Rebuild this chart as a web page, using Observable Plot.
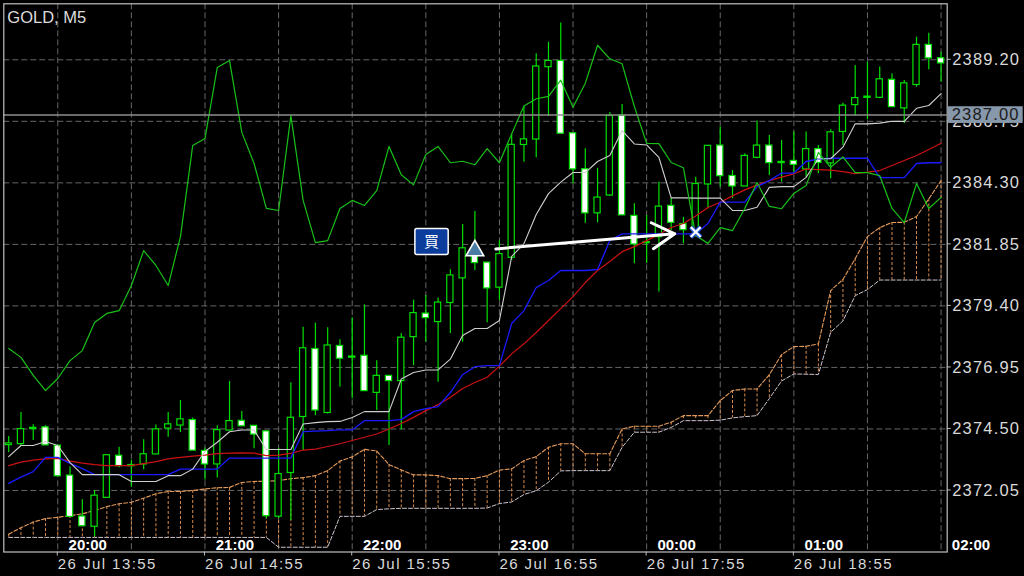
<!DOCTYPE html>
<html><head><meta charset="utf-8">
<script src="https://cdn.jsdelivr.net/npm/d3@7"></script>
<script src="https://cdn.jsdelivr.net/npm/@observablehq/plot@0.6"></script>
<style>
html,body{margin:0;padding:0;background:#000;}
#chart{width:1024px;height:576px;overflow:hidden;}
</style></head><body><div id="chart"></div>
<script>
// ---- data (bars 13:35 .. 19:55, M5) ----
const symbol = "GOLD, M5";
const firstBarTime = "2024-07-26T13:35:00Z";
const open = [
 2373.88,2373.92,2374.52,2374.54,2373.81,2372.62,2370.99,2370.63,2371.78,2373.41,
 2373.04,2373.11,2373.51,2374.54,2374.66,2374.83,2373.60,2373.11,2374.46,2374.80,
 2374.60,2374.38,2371.03,2372.77,2375.00,2377.66,2375.16,2377.78,2377.36,2377.39,
 2375.96,2376.59,2376.43,2378.18,2379.07,2378.78,2379.54,2380.52,2381.37,2381.10,
 2380.15,2381.34,2385.83,2386.05,2388.93,2389.13,2386.25,2384.82,2383.11,2383.82,
 2386.95,2382.96,2381.92,2382.16,2383.36,2382.64,2382.40,2384.26,2385.76,2384.55,
 2384.18,2385.32,2385.76,2385.11,2385.15,2384.86,2385.62,2385.10,2386.35,2387.42,
 2387.71,2387.71,2388.38,2387.29,2388.22,2389.77,2389.24];
const high = [
 2374.20,2375.16,2374.67,2374.63,2373.84,2372.98,2371.68,2372.05,2373.46,2373.77,
 2373.24,2374.07,2374.66,2375.16,2375.63,2374.94,2373.74,2374.63,2376.39,2375.19,
 2374.63,2374.40,2373.73,2376.34,2378.55,2378.71,2378.53,2378.05,2378.93,2379.44,
 2377.22,2376.59,2378.30,2379.63,2379.81,2379.71,2380.84,2382.64,2383.16,2381.13,
 2382.00,2386.25,2387.34,2389.44,2389.90,2390.67,2386.27,2385.66,2384.88,2387.10,
 2387.42,2383.47,2383.00,2384.33,2383.68,2382.93,2384.52,2385.75,2386.52,2384.79,
 2385.46,2386.76,2386.19,2385.99,2386.32,2386.32,2385.79,2386.41,2387.47,2388.97,
 2389.10,2388.91,2388.64,2388.38,2390.10,2390.26,2389.50];
const low = [
 2373.56,2373.84,2374.04,2373.84,2372.60,2370.99,2370.61,2370.21,2371.77,2372.95,
 2372.18,2372.88,2373.48,2374.17,2374.36,2373.64,2372.47,2372.55,2374.43,2374.60,
 2373.71,2370.92,2370.93,2370.85,2373.64,2375.03,2375.10,2376.16,2375.70,2376.00,
 2375.23,2373.84,2374.46,2377.02,2377.95,2376.36,2378.30,2377.95,2380.81,2378.73,
 2379.61,2381.21,2385.12,2385.30,2386.94,2386.27,2384.26,2382.69,2382.71,2383.76,
 2383.03,2381.08,2381.09,2379.95,2382.40,2381.87,2382.14,2383.27,2384.13,2383.67,
 2384.15,2385.26,2384.59,2384.33,2384.66,2384.53,2384.66,2384.46,2385.79,2386.94,
 2386.81,2387.65,2387.34,2386.66,2388.11,2388.80,2388.31];
const close = [
 2373.90,2374.47,2374.52,2373.87,2372.64,2371.02,2370.65,2371.82,2373.43,2373.04,
 2373.04,2373.47,2374.46,2374.66,2374.86,2373.66,2373.11,2374.43,2374.79,2374.63,
 2374.30,2371.05,2372.68,2374.92,2377.69,2375.26,2377.80,2377.32,2377.36,2376.03,
 2376.59,2376.43,2378.11,2379.09,2378.94,2379.51,2380.59,2381.67,2381.13,2380.12,
 2381.44,2385.79,2386.01,2388.91,2389.13,2386.28,2384.86,2383.11,2383.69,2386.94,
 2383.03,2381.87,2381.92,2383.33,2382.73,2382.44,2384.23,2385.75,2384.59,2384.18,
 2385.35,2385.76,2385.11,2385.11,2385.04,2385.62,2385.12,2386.29,2387.35,2387.65,
 2387.71,2388.40,2387.34,2388.24,2389.77,2389.28,2389.08];
// white line
const tenkan = [
 2373.40,2373.84,2373.84,2374.00,2373.84,2373.16,2372.68,2372.68,2372.68,2372.68,
 2372.41,2372.41,2372.41,2372.64,2372.64,2372.90,2373.60,2373.97,2374.39,2374.46,
 2374.46,2373.68,2373.68,2373.68,2374.70,2374.75,2374.79,2374.80,2374.96,2375.19,
 2375.19,2375.19,2376.49,2376.75,2376.85,2376.85,2377.28,2378.22,2378.50,2378.50,
 2378.82,2381.37,2381.88,2383.04,2383.87,2384.33,2384.71,2384.71,2385.15,2385.39,
 2386.38,2385.85,2385.81,2385.31,2383.70,2383.70,2383.69,2383.69,2383.69,2383.20,
 2383.20,2383.33,2384.12,2384.15,2384.15,2384.52,2385.26,2385.26,2385.72,2386.65,
 2386.65,2386.68,2386.75,2386.75,2387.27,2387.38,2387.85];
// blue line
const kijun = [
 2372.33,2372.58,2372.80,2373.37,2373.37,2373.13,2372.92,2372.68,2372.68,2372.68,
 2372.68,2372.68,2372.68,2372.68,2372.90,2372.90,2372.90,2372.90,2373.34,2373.34,
 2373.34,2373.34,2373.34,2373.34,2374.39,2374.41,2374.43,2374.46,2374.46,2374.83,
 2374.83,2374.83,2374.87,2375.19,2375.31,2375.39,2375.95,2376.66,2376.98,2377.02,
 2377.02,2378.70,2379.21,2380.13,2380.41,2380.81,2380.81,2380.81,2380.85,2382.00,
 2382.27,2382.27,2382.27,2382.27,2382.27,2382.27,2382.27,2382.68,2383.53,2383.53,
 2383.53,2384.15,2384.39,2384.69,2384.69,2385.15,2385.25,2385.28,2385.28,2385.28,
 2385.28,2384.51,2384.51,2384.51,2385.07,2385.10,2385.10];
// red line
const ma = [
 2373.04,2373.18,2373.26,2373.31,2373.33,2373.22,2373.14,2373.08,2373.04,2373.04,
 2373.04,2373.12,2373.20,2373.31,2373.37,2373.42,2373.46,2373.52,2373.54,2373.55,
 2373.54,2373.44,2373.46,2373.53,2373.66,2373.70,2373.80,2373.91,2374.04,2374.17,
 2374.30,2374.50,2374.72,2374.96,2375.23,2375.47,2375.75,2376.11,2376.35,2376.56,
 2377.00,2377.49,2377.89,2378.34,2378.82,2379.29,2379.77,2380.33,2380.81,2381.17,
 2381.56,2381.76,2382.00,2382.24,2382.52,2382.68,2382.98,2383.32,2383.53,2383.78,
 2384.02,2384.21,2384.39,2384.53,2384.66,2384.85,2384.83,2384.81,2384.75,2384.67,
 2384.73,2384.79,2384.99,2385.19,2385.39,2385.63,2385.88];
// green line
const chikou = [
 2377.70,2377.35,2376.63,2376.03,2376.51,2377.22,2377.62,2378.74,2379.10,2379.21,
 2380.21,2381.60,2381.01,2380.21,2382.16,2385.79,2386.07,2388.89,2389.17,2386.31,
 2385.07,2383.28,2383.20,2386.98,2383.60,2381.92,2382.00,2383.28,2383.60,2383.40,
 2383.99,2385.75,2384.62,2384.22,2385.43,2385.75,2385.10,2385.16,2385.02,2385.66,
 2385.10,2386.25,2387.36,2387.65,2387.74,2388.39,2387.31,2388.27,2389.78,2389.24,
 2389.04,2387.34,2385.87,2385.86,2385.11,2384.90,2382.20,2381.89,2382.52,2382.40,
 2383.28,2384.31,2383.36,2383.27,2383.88,2384.19,2385.51,2384.92,2385.33,2384.71,
 2384.71,2384.59,2383.28,2382.72,2384.27,2383.28,2383.72];
// cloud
const spanA = [
 2370.31,2370.57,2370.79,2370.93,2370.98,2371.05,2371.12,2371.25,2371.41,2371.52,
 2371.58,2371.74,2371.92,2372.01,2372.01,2372.05,2372.11,2372.16,2372.17,2372.37,
 2372.41,2372.42,2372.44,2372.52,2372.56,2372.64,2372.84,2373.22,2373.39,2373.69,
 2373.62,2373.08,2372.87,2372.67,2372.67,2372.64,2372.52,2372.52,2372.53,2372.64,
 2372.86,2372.91,2373.24,2373.40,2373.77,2373.91,2373.91,2373.51,2373.51,2373.51,
 2374.50,2374.61,2374.61,2374.61,2374.77,2375.03,2375.03,2375.03,2375.63,2376.03,
 2376.09,2376.09,2376.66,2377.46,2377.78,2377.79,2377.89,2380.01,2380.45,2381.28,
 2382.16,2382.52,2382.72,2382.73,2382.96,2383.66,2384.39];
const spanB = [
 2370.18,2370.18,2370.18,2370.18,2370.18,2370.18,2370.18,2370.18,2370.18,2370.18,
 2370.18,2370.18,2370.18,2370.18,2370.18,2370.18,2370.18,2370.18,2370.18,2370.18,
 2370.18,2370.18,2369.79,2369.79,2369.79,2369.79,2369.79,2371.02,2371.02,2371.02,
 2371.29,2371.32,2371.34,2371.34,2371.34,2371.34,2371.34,2371.34,2371.34,2371.35,
 2371.53,2371.59,2371.89,2372.04,2372.38,2372.83,2372.84,2372.84,2372.84,2372.84,
 2373.77,2374.37,2374.37,2374.37,2374.56,2374.83,2374.83,2374.83,2374.85,2374.94,
 2374.99,2375.03,2375.71,2376.41,2376.69,2376.68,2376.67,2378.35,2378.80,2379.81,
 2380.05,2380.43,2380.43,2380.43,2380.43,2380.43,2380.43];
const priceTicks = [2372.05, 2374.50, 2376.95, 2379.40, 2381.85, 2384.30, 2386.75, 2389.20];
const currentPrice = 2387.00;
const dateLabels = ["26 Jul 13:55","26 Jul 14:55","26 Jul 15:55","26 Jul 16:55","26 Jul 17:55","26 Jul 18:55"];
const dateLabelTimes = ["13:55","14:55","15:55","16:55","17:55","18:55"];
const localLabels = ["20:00","21:00","22:00","23:00","00:00","01:00","02:00"];
const localLabelTimes = ["14:00","15:00","16:00","17:00","18:00","19:00","20:00"];
const tradeSide = "買";
const entryTime = "16:45", entryPrice = 2381.60;
const exitTime = "18:15", exitPrice = 2382.34;

// ---- build ----
const T0 = Date.parse(firstBarTime);
const M5 = 5 * 60 * 1000;
const barTime = k => new Date(T0 + k * M5);
const at = hm => new Date(Date.parse(`2024-07-26T${hm}:00Z`));
const bars = open.map((o, k) => ({
  t: barTime(k), open: o, high: high[k], low: low[k], close: close[k],
  tenkan: tenkan[k], kijun: kijun[k], ma: ma[k], chikou: chikou[k], spanA: spanA[k], spanB: spanB[k]
}));
const bull = bars.filter(d => d.close >= d.open);
const bear = bars.filter(d => d.close < d.open);
const gridTimes = d3.range(13).map(j => new Date(Date.parse("2024-07-26T13:55:00Z") + j * 30 * 60000));
const dateTicks = dateLabels.map((label, j) => ({t: at(dateLabelTimes[j]), label}));
const localTicks = localLabels.map((label, j) => ({t: at(localLabelTimes[j]), label}));
const trade = {side: tradeSide, t1: at(entryTime), p1: entryPrice, t2: at(exitTime), p2: exitPrice};

const CANDLE = "#00e000";
const GRID = "#666666";
const TXT = "#d9d9d9";
const FONT = "'Liberation Sans', Arial, sans-serif";

function axisTicks(index, scales, values, dims) {
  const {x, y} = scales;
  const g = d3.create("svg:g");
  const right = dims.width - dims.marginRight;
  const bottom = dims.height - dims.marginBottom;
  for (const p of priceTicks) g.append("line").attr("x1", right).attr("x2", right + 4)
    .attr("y1", y(p)).attr("y2", y(p)).attr("stroke", "#bdbdbd");
  for (const d of dateTicks) g.append("line").attr("x1", x(d.t)).attr("x2", x(d.t))
    .attr("y1", bottom).attr("y2", bottom + 4).attr("stroke", "#bdbdbd");
  return g.node();
}
function priceBox(index, scales, values, dims) {
  const {y} = scales;
  const g = d3.create("svg:g");
  const right = dims.width - dims.marginRight;
  const yy = y(currentPrice);
  g.append("rect").attr("x", right + 1).attr("y", yy - 8.3).attr("width", 75).attr("height", 16.7).attr("fill", "#8898ab");
  g.append("text").attr("x", right + 5).attr("y", yy).attr("dy", "0.36em")
    .attr("text-anchor", "start").attr("font-family", FONT).attr("fill", "#1a1a1a")
    .attr("font-size", 16.5).attr("letter-spacing", 1.2).text(currentPrice.toFixed(2));
  return g.node();
}
function orderTag(index, scales) {
  const {x, y} = scales;
  const g = d3.create("svg:g");
  const cx = x(trade.t1), cy = y(trade.p1);
  g.append("rect").attr("x", cx - 59.5).attr("y", cy - 21.7).attr("width", 33.3).attr("height", 26)
    .attr("rx", 2).attr("fill", "#0c3d9c").attr("stroke", "#ffffff").attr("stroke-width", 1.5);
  g.append("text").attr("x", cx - 42.8).attr("y", cy - 8.7).attr("dy", "0.36em").attr("text-anchor", "middle")
    .attr("fill", "#ffffff").attr("font-size", 15).attr("font-family", "'Noto Sans CJK JP', sans-serif").text(trade.side);
  return g.node();
}

const chart = Plot.plot({
  width: 1024, height: 576,
  marginLeft: 3.3, marginRight: 77.3, marginTop: 3.3, marginBottom: 24.5,
  x: {type: "utc", domain: [barTime(-0.4), barTime(76.5)], axis: null},
  y: {domain: [2369.60, 2391.43], axis: null},
  style: {background: "#000", color: TXT, fontFamily: FONT, overflow: "visible"},
  marks: [
    Plot.ruleY(priceTicks, {y: d => d, stroke: GRID, strokeDasharray: "6,3"}),
    Plot.ruleX(gridTimes, {x: d => d, stroke: GRID, strokeDasharray: "6,3"}),
    // cloud
    Plot.ruleX(bars, {x: "t", y1: "spanA", y2: "spanB", stroke: "#d88c4e", strokeDasharray: "3,2", strokeWidth: 1}),
    Plot.line(bars, {x: "t", y: "spanB", stroke: "#cfc2cf", strokeDasharray: "4,2", strokeWidth: 1}),
    Plot.line(bars, {x: "t", y: "spanA", stroke: "#e39a5c", strokeDasharray: "4,2", strokeWidth: 1.1}),
    // candles
    Plot.ruleX(bars, {x: "t", y1: "low", y2: "high", stroke: CANDLE, strokeWidth: 1.2}),
    Plot.rect(bull, {x1: "t", x2: "t", y1: "open", y2: "close", insetLeft: -3.1, insetRight: -3.1, insetTop: -0.6, insetBottom: -0.6, fill: "#000", stroke: CANDLE, strokeWidth: 1.2}),
    Plot.rect(bear, {x1: "t", x2: "t", y1: "open", y2: "close", insetLeft: -3.1, insetRight: -3.1, insetTop: -0.6, insetBottom: -0.6, fill: "#ffffff", stroke: CANDLE, strokeWidth: 1.2}),
    // indicator lines
    Plot.line(bars, {x: "t", y: "ma", stroke: "#cc1111", strokeWidth: 1.2}),
    Plot.line(bars, {x: "t", y: "kijun", stroke: "#1a1aff", strokeWidth: 1.3}),
    Plot.line(bars, {x: "t", y: "tenkan", stroke: "#cfcfcf", strokeWidth: 1.1}),
    Plot.line(bars, {x: "t", y: "chikou", stroke: "#18c018", strokeWidth: 1.2}),
    // current price line
    Plot.ruleY([currentPrice], {y: d => d, stroke: "#8e8e8e", strokeWidth: 1.6}),
    Plot.frame({stroke: "#c0c0c0", strokeWidth: 1.2}),
    axisTicks,
    // labels
    Plot.text(priceTicks, {y: d => d, text: d => d.toFixed(2), frameAnchor: "right", dx: 5, textAnchor: "start", lineAnchor: "middle", fill: TXT, fontSize: 16.5}),
    Plot.text(dateTicks, {x: "t", text: "label", frameAnchor: "bottom", dy: 12, textAnchor: "start", lineAnchor: "middle", fill: TXT, fontSize: 15}),
    Plot.text(localTicks, {x: "t", text: "label", frameAnchor: "bottom", dy: -7, dx: -1.5, textAnchor: "start", lineAnchor: "middle", fill: "#ffffff", fontSize: 15, fontWeight: "bold"}),
    Plot.text([symbol], {text: d => d, frameAnchor: "top-left", dx: 3.5, dy: 13.5, textAnchor: "start", lineAnchor: "middle", fill: "#dcdcdc", fontSize: 16.5}),
    priceBox,
    // trade
    Plot.arrow([trade], {x1: "t1", y1: "p1", x2: "t2", y2: "p2", stroke: "#ffffff", strokeWidth: 3, headLength: 13, insetStart: 21, insetEnd: 21}),
    Plot.dot([trade], {x: "t1", y: "p1", symbol: "triangle", r: 6.6, fill: "#4a7ca6", stroke: "#ffffff", strokeWidth: 1.6}),
    Plot.dot([trade], {x: "t2", y: "p2", symbol: "times", r: 4.6, stroke: "#2a55d8", strokeWidth: 4.6}),
    Plot.dot([trade], {x: "t2", y: "p2", symbol: "times", r: 4.6, stroke: "#ffffff", strokeWidth: 2.2}),
    orderTag
  ]
});
d3.select(chart).selectAll("text").each(function () {
  const s = this.textContent;
  if (/^\d{4}\.\d{2}$/.test(s)) this.setAttribute("letter-spacing", "1.2");
  else if (/^26 Jul/.test(s)) this.setAttribute("letter-spacing", "1.45");
});
document.getElementById("chart").appendChild(chart);
</script>
</body></html>
